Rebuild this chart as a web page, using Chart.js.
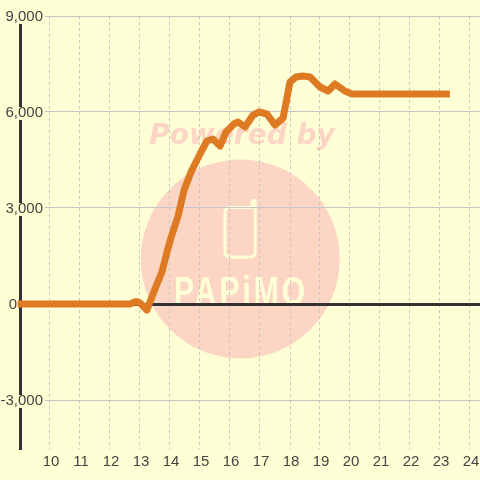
<!DOCTYPE html>
<html>
<head>
<meta charset="utf-8">
<style>html,body{margin:0;padding:0;background:#ffffd5}canvas{display:block}</style>
<script src="https://cdn.jsdelivr.net/npm/chart.js@4"></script>
</head>
<body>
<canvas id="c" width="480" height="480"></canvas>
<script>
const hours = [8.92,12.67,12.87,13,13.23,13.5,13.73,13.9,14.03,14.27,14.47,14.7,15,15.23,15.43,15.67,15.87,16.13,16.27,16.5,16.77,16.97,17.23,17.5,17.77,18,18.2,18.43,18.67,19,19.27,19.5,19.83,20.07,23.33];
const values = [0,0,78,31,-188,469,1000,1625,2063,2750,3563,4125,4688,5094,5156,4938,5375,5625,5688,5531,5906,6000,5938,5594,5813,6938,7094,7125,7094,6781,6656,6875,6656,6563,6563];
const xTicks = [10,11,12,13,14,15,16,17,18,19,20,21,22,23,24];
const yTicks = [-4000,-3000,-2000,-1000,0,1000,2000,3000,4000,5000,6000,7000,8000,9000];
const yLabelled = [-3000,0,3000,6000,9000];
const watermarkTitle = "Powered by";
const watermarkBrand = "PAPiMO";

const BG = '#ffffd5', MARK = '#fcd5c5', INK = '#333333', TEXT = '#444444', GRID = '#c6c6c8';

const watermark = {
  id: 'watermark',
  beforeDraw(chart) {
    const c = chart.ctx;
    c.save();
    c.fillStyle = BG;
    c.fillRect(0, 0, chart.width, chart.height);
    c.fillStyle = MARK;
    c.beginPath();
    c.arc(240.3, 259, 99.5, 0, Math.PI * 2);
    c.fill();
    c.font = 'italic bold 28px "DejaVu Sans"';
    c.textAlign = 'center';
    c.textBaseline = 'alphabetic';
    c.fillText(watermarkTitle, 242, 144);
    c.strokeStyle = BG;
    c.lineWidth = 3;
    c.lineCap = 'round';
    c.lineJoin = 'round';
    c.beginPath();
    c.moveTo(255.2, 200.5);
    c.lineTo(255.2, 252);
    c.quadraticCurveTo(255.2, 257, 250, 257);
    c.lineTo(230, 257);
    c.quadraticCurveTo(225, 257, 225, 252);
    c.lineTo(225, 212);
    c.quadraticCurveTo(225, 207.5, 230, 207.5);
    c.lineTo(252, 207.5);
    c.lineTo(252, 202);
    c.quadraticCurveTo(253, 200, 255.2, 200.5);
    c.stroke();
    c.save();
    c.translate(240, 305);
    c.scale(1, 1.35);
    c.fillStyle = BG;
    c.font = 'bold 30px "Liberation Sans"';
    c.letterSpacing = '3px';
    c.fillText(watermarkBrand, 1, 0);
    c.restore();
    c.restore();
    // tick labels sit right-aligned over the axis line, with a backdrop
    const y = chart.scales.y;
    const labels = y.ticks.filter(t => t.label !== null && t.label !== undefined);
    y.getLabelItems().forEach((it, i) => {
      const o = it.options;
      const right = labels[i] && labels[i].value === 0 ? 17 : 43;
      o.textAlign = 'right';
      o.translation = [right, y.getPixelForValue(labels[i].value) + 1];
      if (o.backdrop) {
        o.backdrop.left = 2 - o.backdrop.width;
        o.backdrop.top = -6;
        o.backdrop.height = 13;
      }
    });
    const x = chart.scales.x;
    x.getLabelItems().forEach((it, i) => {
      it.options.translation = [x.getPixelForValue(xTicks[i]) + 1, it.options.translation[1]];
    });
  }
};

new Chart(document.getElementById('c'), {
  type: 'line',
  data: {
    datasets: [{
      data: hours.map((h, i) => ({ x: h, y: values[i] })),
      borderColor: '#de7a22',
      borderWidth: 7,
      borderJoinStyle: 'round',
      borderCapStyle: 'butt',
      pointRadius: 0,
      tension: 0,
      clip: false,
      fill: false
    }]
  },
  plugins: [watermark],
  options: {
    responsive: false,
    animation: false,
    events: [],
    layout: { autoPadding: false, padding: { top: 16, left: 0, right: 0, bottom: 0 } },
    plugins: { legend: { display: false }, title: { display: false }, tooltip: { enabled: false } },
    scales: {
      x: {
        type: 'linear',
        min: 9,
        max: 9 + 460 / 30,
        afterBuildTicks: s => { s.ticks = xTicks.map(v => ({ value: v })); },
        afterFit: s => { s.height = 31; s.paddingRight = 0; s.paddingLeft = 0; },
        grid: { color: GRID, lineWidth: 1, drawTicks: false },
        border: { display: false, dash: [3, 3] },
        ticks: {
          color: TEXT, font: { family: '"Liberation Sans"', size: 15 },
          padding: 4, maxRotation: 0, autoSkip: false,
          callback: v => String(v)
        }
      },
      y: {
        type: 'linear',
        min: -4531.25,
        max: 9000,
        afterBuildTicks: s => { s.ticks = yTicks.map(v => ({ value: v })); },
        afterFit: s => { s.width = 20; },
        grid: {
          drawTicks: false,
          color: c => c.tick && c.tick.value === 0 ? INK : GRID,
          lineWidth: c => c.tick && c.tick.value === 0 ? 3 : 1
        },
        border: { display: true, color: INK, width: 3 },
        ticks: {
          mirror: true,
          color: TEXT, font: { family: '"Liberation Sans"', size: 15 },
          padding: 0, autoSkip: false,
          showLabelBackdrop: c => yLabelled.includes(c.tick.value) && c.tick.value !== 0,
          backdropColor: BG, backdropPadding: 1,
          callback: v => yLabelled.includes(v) ? v.toLocaleString('en-US') : null
        }
      }
    }
  }
});
</script>
</body>
</html>
